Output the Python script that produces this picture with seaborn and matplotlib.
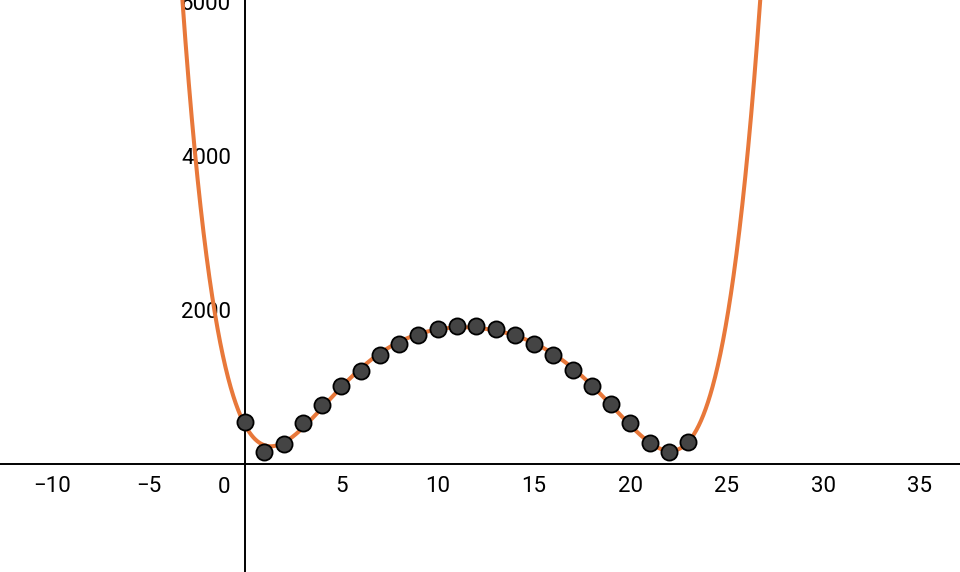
import numpy as np
import pandas as pd
import matplotlib.pyplot as plt
import seaborn as sns

# pontos
x_pts = list(range(24))
y_pts = [548, 160, 260, 528, 766, 1013, 1212, 1416, 1554, 1675, 1749, 1796,
         1796, 1749, 1675, 1554, 1416, 1221, 1017, 775, 528, 269, 160, 290]
x_ticks = [-10, -5, 5, 10, 15, 20, 25, 30, 35]
y_ticks = [2000, 4000, 6000]

df = pd.DataFrame({'x': x_pts, 'y': y_pts})

# ajuste polinomial (grau 6) aos pontos
coef = np.polyfit(df['x'], df['y'], 6)
xs = np.linspace(-13, 38, 3000)
curva = pd.DataFrame({'x': xs, 'y': np.polyval(coef, xs)})

sns.set_style("white")
plt.rcParams['font.family'] = ['Roboto', 'DejaVu Sans']
plt.rcParams['axes.unicode_minus'] = True

fig = plt.figure(figsize=(9.6, 5.72), dpi=100)
ax = fig.add_axes([0, 0, 1, 1])

sns.lineplot(data=curva, x='x', y='y', color='#E8783A', linewidth=2.9, ax=ax, zorder=2)
sns.scatterplot(data=df, x='x', y='y', s=135, color='#444444', edgecolor='black',
                linewidth=1.3, ax=ax, zorder=3)

ax.set_xlim(-12.71, 37.1)
ax.set_ylim(-1403, 6026)

# eixos estilo GeoGebra passando pela origem
for s in ['top', 'right']:
    ax.spines[s].set_visible(False)
for s in ['left', 'bottom']:
    ax.spines[s].set_position('zero')
    ax.spines[s].set_linewidth(1.4)
    ax.spines[s].set_color('black')
    ax.spines[s].set_zorder(1)

ax.set_xticks(x_ticks)
ax.set_yticks(y_ticks)
ax.tick_params(axis='x', direction='out', length=4, width=1.3, pad=5,
               labelsize=16, colors='black')
ax.tick_params(axis='y', direction='out', length=4, width=1.3, pad=6,
               labelsize=16, colors='black')
ax.set_xlabel('')
ax.set_ylabel('')
ax.annotate('0', xy=(0, 0), xytext=(-15, -13), textcoords='offset pixels',
            ha='right', va='top', fontsize=16, color='black')

fig.savefig('out.png', dpi=100)
